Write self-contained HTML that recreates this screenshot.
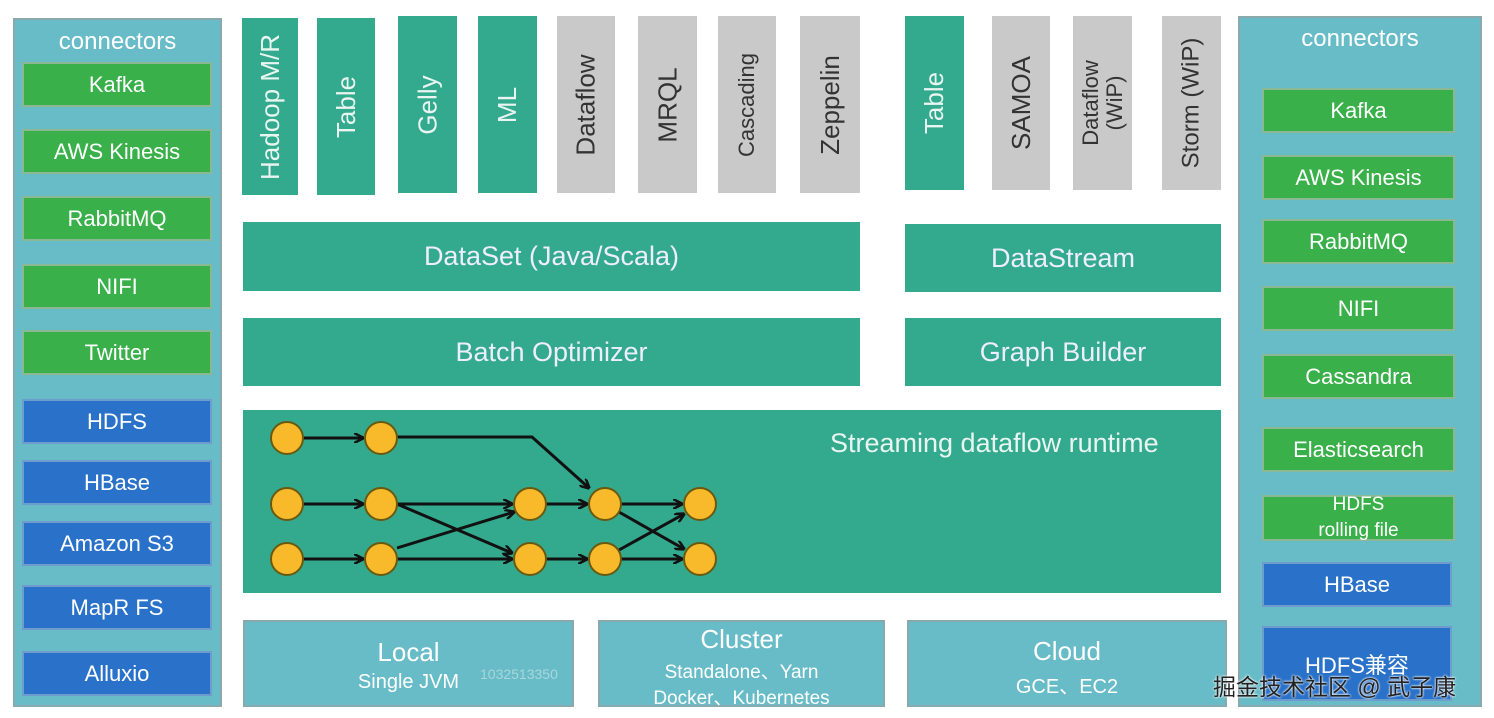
<!DOCTYPE html>
<html><head><meta charset="utf-8"><style>
body{margin:0;width:1494px;height:718px;background:#fff;position:relative;overflow:hidden;font-family:"Liberation Sans","Noto Sans CJK SC",sans-serif;color:#fff}
div{position:absolute;box-sizing:border-box}
.p{background:#68bcc8;border:2px solid #8aa9ad}
.g{background:#39b049;border:2px solid #8ab892;display:flex;align-items:center;justify-content:center;font-size:22px}
.b{background:#2a72c9;border:2px solid #6f9ccc;display:flex;align-items:center;justify-content:center;font-size:22px}
.t{background:#33a98e;display:flex;align-items:center;justify-content:center;font-size:27px;color:#eef}
.v{display:flex;align-items:center;justify-content:center}
.v span{transform:rotate(-90deg);white-space:nowrap;font-size:26px;line-height:28px;text-align:center}
.gr{background:#c9c9c9;color:#333}
.tl{background:#33a98e;color:#e8f5f0}
.bt{background:#68bcc8;border:2px solid #8aa9ad;text-align:center}
</style></head><body>
<div class="p" style="left:13px;top:18px;width:209px;height:689px"></div>
<div style="left:13px;top:28px;width:209px;text-align:center;font-size:24px">connectors</div>
<div class="g" style="left:22px;top:62px;width:190px;height:45px">Kafka</div>
<div class="g" style="left:22px;top:129px;width:190px;height:45px">AWS Kinesis</div>
<div class="g" style="left:22px;top:196px;width:190px;height:45px">RabbitMQ</div>
<div class="g" style="left:22px;top:264px;width:190px;height:45px">NIFI</div>
<div class="g" style="left:22px;top:330px;width:190px;height:45px">Twitter</div>
<div class="b" style="left:22px;top:399px;width:190px;height:45px">HDFS</div>
<div class="b" style="left:22px;top:460px;width:190px;height:45px">HBase</div>
<div class="b" style="left:22px;top:521px;width:190px;height:45px">Amazon S3</div>
<div class="b" style="left:22px;top:585px;width:190px;height:45px">MapR FS</div>
<div class="b" style="left:22px;top:651px;width:190px;height:45px">Alluxio</div>

<div class="v tl" style="left:242px;top:18px;width:56px;height:177px"><span>Hadoop M/R</span></div>
<div class="v tl" style="left:317px;top:18px;width:58px;height:177px"><span>Table</span></div>
<div class="v tl" style="left:398px;top:16px;width:59px;height:177px"><span>Gelly</span></div>
<div class="v tl" style="left:478px;top:16px;width:59px;height:177px"><span>ML</span></div>
<div class="v gr" style="left:557px;top:16px;width:58px;height:177px"><span>Dataflow</span></div>
<div class="v gr" style="left:638px;top:16px;width:59px;height:177px"><span>MRQL</span></div>
<div class="v gr" style="left:718px;top:16px;width:58px;height:177px"><span style="font-size:22px">Cascading</span></div>
<div class="v gr" style="left:800px;top:16px;width:60px;height:177px"><span>Zeppelin</span></div>
<div class="v tl" style="left:905px;top:16px;width:59px;height:174px"><span>Table</span></div>
<div class="v gr" style="left:992px;top:16px;width:58px;height:174px"><span>SAMOA</span></div>
<div class="v gr" style="left:1073px;top:16px;width:59px;height:174px"><span style="font-size:22px;line-height:24px">Dataflow<br>(WiP)</span></div>
<div class="v gr" style="left:1162px;top:16px;width:59px;height:174px"><span style="font-size:24px">Storm (WiP)</span></div>

<div class="t" style="left:243px;top:222px;width:617px;height:69px">DataSet (Java/Scala)</div>
<div class="t" style="left:905px;top:224px;width:316px;height:68px">DataStream</div>
<div class="t" style="left:243px;top:318px;width:617px;height:68px">Batch Optimizer</div>
<div class="t" style="left:905px;top:318px;width:316px;height:68px">Graph Builder</div>
<div class="t" style="left:243px;top:410px;width:978px;height:183px"></div>
<div style="left:830px;top:428px;font-size:27px;color:#e8f5f0">Streaming dataflow runtime</div>
<svg style="position:absolute;left:0;top:0" width="1494" height="718">
<defs><marker id="a" markerWidth="10" markerHeight="10" refX="9" refY="5" orient="auto" markerUnits="userSpaceOnUse"><path d="M0,0 L10,5 L0,10" fill="none" stroke="#111" stroke-width="2.5"/></marker></defs>
<g stroke="#111" stroke-width="3" fill="none">
<line x1="303" y1="438" x2="363" y2="438" marker-end="url(#a)"/>
<line x1="303" y1="504" x2="363" y2="504" marker-end="url(#a)"/>
<line x1="303" y1="559" x2="363" y2="559" marker-end="url(#a)"/>
<polyline points="397,437 532,437 589,488" marker-end="url(#a)"/>
<line x1="397" y1="504" x2="512" y2="504" marker-end="url(#a)"/>
<line x1="397" y1="504" x2="512" y2="553" marker-end="url(#a)"/>
<line x1="397" y1="548" x2="514" y2="512" marker-end="url(#a)"/>
<line x1="397" y1="559" x2="512" y2="559" marker-end="url(#a)"/>
<line x1="546" y1="504" x2="587" y2="504" marker-end="url(#a)"/>
<line x1="546" y1="559" x2="587" y2="559" marker-end="url(#a)"/>
<line x1="621" y1="504" x2="682" y2="504" marker-end="url(#a)"/>
<line x1="619" y1="512" x2="684" y2="549" marker-end="url(#a)"/>
<line x1="619" y1="550" x2="684" y2="514" marker-end="url(#a)"/>
<line x1="621" y1="559" x2="682" y2="559" marker-end="url(#a)"/>
</g>
<g fill="#f8b92a" stroke="#6a5a10" stroke-width="2">
<circle cx="287" cy="438" r="16"/><circle cx="381" cy="438" r="16"/>
<circle cx="287" cy="504" r="16"/><circle cx="381" cy="504" r="16"/><circle cx="530" cy="504" r="16"/><circle cx="605" cy="504" r="16"/><circle cx="700" cy="504" r="16"/>
<circle cx="287" cy="559" r="16"/><circle cx="381" cy="559" r="16"/><circle cx="530" cy="559" r="16"/><circle cx="605" cy="559" r="16"/><circle cx="700" cy="559" r="16"/>
</g></svg>

<div class="bt" style="left:243px;top:620px;width:331px;height:87px"><div style="left:0;right:0;top:15px;font-size:26px">Local</div><div style="left:0;right:0;top:49px;font-size:20px">Single JVM</div><div style="left:235px;top:44px;font-size:14px;color:#a8d6dc">1032513350</div></div>
<div class="bt" style="left:598px;top:620px;width:287px;height:87px"><div style="left:0;right:0;top:2px;font-size:26px">Cluster</div><div style="left:0;right:0;top:35px;font-size:19px">Standalone、Yarn</div><div style="left:0;right:0;top:61px;font-size:19px">Docker、Kubernetes</div></div>
<div class="bt" style="left:907px;top:620px;width:320px;height:87px"><div style="left:0;right:0;top:14px;font-size:26px">Cloud</div><div style="left:0;right:0;top:48px;font-size:20px">GCE、EC2</div></div>

<div class="p" style="left:1238px;top:16px;width:244px;height:691px"></div>
<div style="left:1238px;top:25px;width:244px;text-align:center;font-size:24px">connectors</div>
<div class="g" style="left:1262px;top:88px;width:193px;height:45px">Kafka</div>
<div class="g" style="left:1262px;top:155px;width:193px;height:45px">AWS Kinesis</div>
<div class="g" style="left:1262px;top:219px;width:193px;height:45px">RabbitMQ</div>
<div class="g" style="left:1262px;top:286px;width:193px;height:45px">NIFI</div>
<div class="g" style="left:1262px;top:354px;width:193px;height:45px">Cassandra</div>
<div class="g" style="left:1262px;top:427px;width:193px;height:45px">Elasticsearch</div>
<div class="g" style="left:1262px;top:495px;width:193px;height:46px;font-size:19px;line-height:26px;text-align:center;flex-direction:column"><span>HDFS</span><span>rolling file</span></div>
<div class="b" style="left:1262px;top:562px;width:190px;height:45px">HBase</div>
<div class="b" style="left:1262px;top:626px;width:190px;height:75px">HDFS兼容</div>
<div style="left:1213px;top:668px;font-size:23px;color:#222;text-shadow:0 0 2px #fff,0 0 2px #fff">掘金技术社区 @ 武子康</div>
</body></html>
